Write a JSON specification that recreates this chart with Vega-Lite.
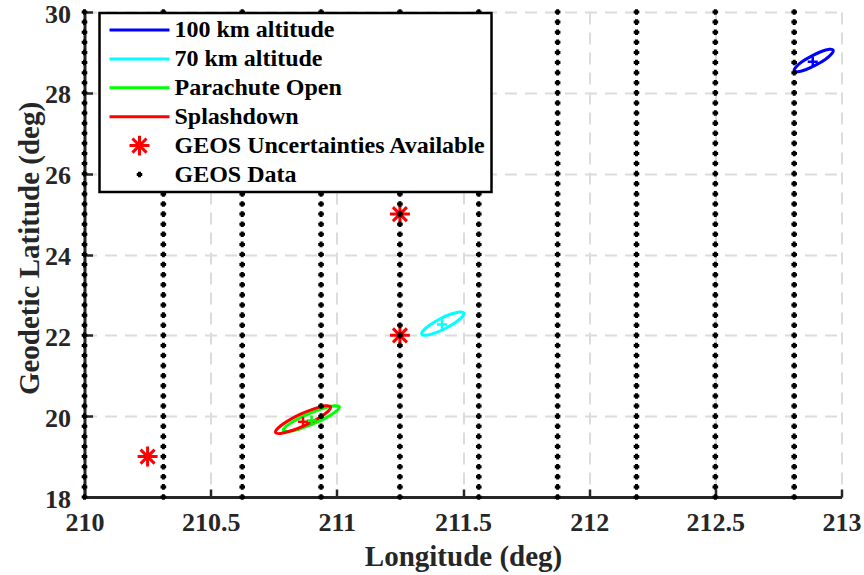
{
  "$schema": "https://vega.github.io/schema/vega-lite/v6.json",
  "width": 757,
  "height": 485,
  "autosize": {"type": "none"},
  "padding": {"left": 84.5, "top": 12, "right": 22.5, "bottom": 78},
  "background": "white",
  "config": {
    "view": {"stroke": null},
    "font": "Liberation Serif",
    "axis": {
      "labelFont": "Liberation Serif", "labelFontWeight": "bold", "labelFontSize": 26, "labelColor": "#262626",
      "titleFont": "Liberation Serif", "titleFontWeight": "bold", "titleFontSize": 29, "titleColor": "#262626",
      "domainColor": "#262626", "domainWidth": 3, "tickColor": "#262626", "tickWidth": 2.5, "tickSize": -8,
      "gridColor": "#dcdcdc", "gridDash": [12, 8], "gridWidth": 2,
      "labelFlush": false, "labelOverlap": false, "labelBound": false
    },
    "legend": {
      "labelFont": "Liberation Serif", "labelFontWeight": "bold", "labelFontSize": 24, "labelColor": "#000000", "labelLimit": 500
    }
  },
  "datasets": {
    "ellipses": [
      {"series": "100 km altitude", "i": 0, "lon": 212.967, "lat": 29.055},
      {"series": "100 km altitude", "i": 1, "lon": 212.952, "lat": 29.076},
      {"series": "100 km altitude", "i": 2, "lon": 212.920, "lat": 29.022},
      {"series": "100 km altitude", "i": 3, "lon": 212.881, "lat": 28.909},
      {"series": "100 km altitude", "i": 4, "lon": 212.843, "lat": 28.767},
      {"series": "100 km altitude", "i": 5, "lon": 212.819, "lat": 28.633},
      {"series": "100 km altitude", "i": 6, "lon": 212.813, "lat": 28.545},
      {"series": "100 km altitude", "i": 7, "lon": 212.828, "lat": 28.524},
      {"series": "100 km altitude", "i": 8, "lon": 212.860, "lat": 28.578},
      {"series": "100 km altitude", "i": 9, "lon": 212.899, "lat": 28.691},
      {"series": "100 km altitude", "i": 10, "lon": 212.937, "lat": 28.833},
      {"series": "100 km altitude", "i": 11, "lon": 212.961, "lat": 28.967},
      {"series": "70 km altitude", "i": 0, "lon": 211.503, "lat": 22.554},
      {"series": "70 km altitude", "i": 1, "lon": 211.487, "lat": 22.579},
      {"series": "70 km altitude", "i": 2, "lon": 211.453, "lat": 22.527},
      {"series": "70 km altitude", "i": 3, "lon": 211.410, "lat": 22.411},
      {"series": "70 km altitude", "i": 4, "lon": 211.370, "lat": 22.263},
      {"series": "70 km altitude", "i": 5, "lon": 211.343, "lat": 22.122},
      {"series": "70 km altitude", "i": 6, "lon": 211.337, "lat": 22.026},
      {"series": "70 km altitude", "i": 7, "lon": 211.353, "lat": 22.001},
      {"series": "70 km altitude", "i": 8, "lon": 211.387, "lat": 22.053},
      {"series": "70 km altitude", "i": 9, "lon": 211.430, "lat": 22.169},
      {"series": "70 km altitude", "i": 10, "lon": 211.470, "lat": 22.317},
      {"series": "70 km altitude", "i": 11, "lon": 211.497, "lat": 22.458},
      {"series": "Parachute Open", "i": 0, "lon": 211.010, "lat": 20.232},
      {"series": "Parachute Open", "i": 1, "lon": 210.991, "lat": 20.256},
      {"series": "Parachute Open", "i": 2, "lon": 210.947, "lat": 20.194},
      {"series": "Parachute Open", "i": 3, "lon": 210.890, "lat": 20.064},
      {"series": "Parachute Open", "i": 4, "lon": 210.836, "lat": 19.900},
      {"series": "Parachute Open", "i": 5, "lon": 210.799, "lat": 19.746},
      {"series": "Parachute Open", "i": 6, "lon": 210.788, "lat": 19.644},
      {"series": "Parachute Open", "i": 7, "lon": 210.807, "lat": 19.620},
      {"series": "Parachute Open", "i": 8, "lon": 210.851, "lat": 19.682},
      {"series": "Parachute Open", "i": 9, "lon": 210.908, "lat": 19.813},
      {"series": "Parachute Open", "i": 10, "lon": 210.962, "lat": 19.977},
      {"series": "Parachute Open", "i": 11, "lon": 210.999, "lat": 20.130},
      {"series": "Splashdown", "i": 0, "lon": 210.975, "lat": 20.230},
      {"series": "Splashdown", "i": 1, "lon": 210.955, "lat": 20.255},
      {"series": "Splashdown", "i": 2, "lon": 210.912, "lat": 20.188},
      {"series": "Splashdown", "i": 3, "lon": 210.856, "lat": 20.048},
      {"series": "Splashdown", "i": 4, "lon": 210.803, "lat": 19.871},
      {"series": "Splashdown", "i": 5, "lon": 210.767, "lat": 19.706},
      {"series": "Splashdown", "i": 6, "lon": 210.757, "lat": 19.596},
      {"series": "Splashdown", "i": 7, "lon": 210.777, "lat": 19.571},
      {"series": "Splashdown", "i": 8, "lon": 210.820, "lat": 19.638},
      {"series": "Splashdown", "i": 9, "lon": 210.876, "lat": 19.778},
      {"series": "Splashdown", "i": 10, "lon": 210.929, "lat": 19.955},
      {"series": "Splashdown", "i": 11, "lon": 210.965, "lat": 20.120}
    ],
    "centers": [
      {"series": "100 km altitude", "lon": 212.886, "lat": 28.77},
      {"series": "70 km altitude", "lon": 211.417, "lat": 22.27},
      {"series": "Parachute Open", "lon": 210.900, "lat": 19.89},
      {"series": "Splashdown", "lon": 210.866, "lat": 19.86}
    ],
    "uncert": [
      {"series": "GEOS Uncertainties Available", "lon": 210.25, "lat": 19},
      {"series": "GEOS Uncertainties Available", "lon": 211.25, "lat": 22},
      {"series": "GEOS Uncertainties Available", "lon": 211.25, "lat": 25}
    ],
    "geos": [
      {"lon":210,"lat":18},{"lon":210,"lat":18.25},{"lon":210,"lat":18.5},{"lon":210,"lat":18.75},{"lon":210,"lat":19},{"lon":210,"lat":19.25},{"lon":210,"lat":19.5},{"lon":210,"lat":19.75},{"lon":210,"lat":20},{"lon":210,"lat":20.25},{"lon":210,"lat":20.5},{"lon":210,"lat":20.75},{"lon":210,"lat":21},{"lon":210,"lat":21.25},{"lon":210,"lat":21.5},{"lon":210,"lat":21.75},{"lon":210,"lat":22},{"lon":210,"lat":22.25},{"lon":210,"lat":22.5},{"lon":210,"lat":22.75},{"lon":210,"lat":23},{"lon":210,"lat":23.25},{"lon":210,"lat":23.5},{"lon":210,"lat":23.75},{"lon":210,"lat":24},{"lon":210,"lat":24.25},{"lon":210,"lat":24.5},{"lon":210,"lat":24.75},{"lon":210,"lat":25},{"lon":210,"lat":25.25},{"lon":210,"lat":25.5},{"lon":210,"lat":25.75},{"lon":210,"lat":26},{"lon":210,"lat":26.25},{"lon":210,"lat":26.5},{"lon":210,"lat":26.75},{"lon":210,"lat":27},{"lon":210,"lat":27.25},{"lon":210,"lat":27.5},{"lon":210,"lat":27.75},{"lon":210,"lat":28},{"lon":210,"lat":28.25},{"lon":210,"lat":28.5},{"lon":210,"lat":28.75},{"lon":210,"lat":29},{"lon":210,"lat":29.25},{"lon":210,"lat":29.5},{"lon":210,"lat":29.75},{"lon":210,"lat":30},
      {"lon":210.3125,"lat":18},{"lon":210.3125,"lat":18.25},{"lon":210.3125,"lat":18.5},{"lon":210.3125,"lat":18.75},{"lon":210.3125,"lat":19},{"lon":210.3125,"lat":19.25},{"lon":210.3125,"lat":19.5},{"lon":210.3125,"lat":19.75},{"lon":210.3125,"lat":20},{"lon":210.3125,"lat":20.25},{"lon":210.3125,"lat":20.5},{"lon":210.3125,"lat":20.75},{"lon":210.3125,"lat":21},{"lon":210.3125,"lat":21.25},{"lon":210.3125,"lat":21.5},{"lon":210.3125,"lat":21.75},{"lon":210.3125,"lat":22},{"lon":210.3125,"lat":22.25},{"lon":210.3125,"lat":22.5},{"lon":210.3125,"lat":22.75},{"lon":210.3125,"lat":23},{"lon":210.3125,"lat":23.25},{"lon":210.3125,"lat":23.5},{"lon":210.3125,"lat":23.75},{"lon":210.3125,"lat":24},{"lon":210.3125,"lat":24.25},{"lon":210.3125,"lat":24.5},{"lon":210.3125,"lat":24.75},{"lon":210.3125,"lat":25},{"lon":210.3125,"lat":25.25},{"lon":210.3125,"lat":25.5},{"lon":210.3125,"lat":25.75},{"lon":210.3125,"lat":26},{"lon":210.3125,"lat":26.25},{"lon":210.3125,"lat":26.5},{"lon":210.3125,"lat":26.75},{"lon":210.3125,"lat":27},{"lon":210.3125,"lat":27.25},{"lon":210.3125,"lat":27.5},{"lon":210.3125,"lat":27.75},{"lon":210.3125,"lat":28},{"lon":210.3125,"lat":28.25},{"lon":210.3125,"lat":28.5},{"lon":210.3125,"lat":28.75},{"lon":210.3125,"lat":29},{"lon":210.3125,"lat":29.25},{"lon":210.3125,"lat":29.5},{"lon":210.3125,"lat":29.75},{"lon":210.3125,"lat":30},
      {"lon":210.625,"lat":18},{"lon":210.625,"lat":18.25},{"lon":210.625,"lat":18.5},{"lon":210.625,"lat":18.75},{"lon":210.625,"lat":19},{"lon":210.625,"lat":19.25},{"lon":210.625,"lat":19.5},{"lon":210.625,"lat":19.75},{"lon":210.625,"lat":20},{"lon":210.625,"lat":20.25},{"lon":210.625,"lat":20.5},{"lon":210.625,"lat":20.75},{"lon":210.625,"lat":21},{"lon":210.625,"lat":21.25},{"lon":210.625,"lat":21.5},{"lon":210.625,"lat":21.75},{"lon":210.625,"lat":22},{"lon":210.625,"lat":22.25},{"lon":210.625,"lat":22.5},{"lon":210.625,"lat":22.75},{"lon":210.625,"lat":23},{"lon":210.625,"lat":23.25},{"lon":210.625,"lat":23.5},{"lon":210.625,"lat":23.75},{"lon":210.625,"lat":24},{"lon":210.625,"lat":24.25},{"lon":210.625,"lat":24.5},{"lon":210.625,"lat":24.75},{"lon":210.625,"lat":25},{"lon":210.625,"lat":25.25},{"lon":210.625,"lat":25.5},{"lon":210.625,"lat":25.75},{"lon":210.625,"lat":26},{"lon":210.625,"lat":26.25},{"lon":210.625,"lat":26.5},{"lon":210.625,"lat":26.75},{"lon":210.625,"lat":27},{"lon":210.625,"lat":27.25},{"lon":210.625,"lat":27.5},{"lon":210.625,"lat":27.75},{"lon":210.625,"lat":28},{"lon":210.625,"lat":28.25},{"lon":210.625,"lat":28.5},{"lon":210.625,"lat":28.75},{"lon":210.625,"lat":29},{"lon":210.625,"lat":29.25},{"lon":210.625,"lat":29.5},{"lon":210.625,"lat":29.75},{"lon":210.625,"lat":30},
      {"lon":210.9375,"lat":18},{"lon":210.9375,"lat":18.25},{"lon":210.9375,"lat":18.5},{"lon":210.9375,"lat":18.75},{"lon":210.9375,"lat":19},{"lon":210.9375,"lat":19.25},{"lon":210.9375,"lat":19.5},{"lon":210.9375,"lat":19.75},{"lon":210.9375,"lat":20},{"lon":210.9375,"lat":20.25},{"lon":210.9375,"lat":20.5},{"lon":210.9375,"lat":20.75},{"lon":210.9375,"lat":21},{"lon":210.9375,"lat":21.25},{"lon":210.9375,"lat":21.5},{"lon":210.9375,"lat":21.75},{"lon":210.9375,"lat":22},{"lon":210.9375,"lat":22.25},{"lon":210.9375,"lat":22.5},{"lon":210.9375,"lat":22.75},{"lon":210.9375,"lat":23},{"lon":210.9375,"lat":23.25},{"lon":210.9375,"lat":23.5},{"lon":210.9375,"lat":23.75},{"lon":210.9375,"lat":24},{"lon":210.9375,"lat":24.25},{"lon":210.9375,"lat":24.5},{"lon":210.9375,"lat":24.75},{"lon":210.9375,"lat":25},{"lon":210.9375,"lat":25.25},{"lon":210.9375,"lat":25.5},{"lon":210.9375,"lat":25.75},{"lon":210.9375,"lat":26},{"lon":210.9375,"lat":26.25},{"lon":210.9375,"lat":26.5},{"lon":210.9375,"lat":26.75},{"lon":210.9375,"lat":27},{"lon":210.9375,"lat":27.25},{"lon":210.9375,"lat":27.5},{"lon":210.9375,"lat":27.75},{"lon":210.9375,"lat":28},{"lon":210.9375,"lat":28.25},{"lon":210.9375,"lat":28.5},{"lon":210.9375,"lat":28.75},{"lon":210.9375,"lat":29},{"lon":210.9375,"lat":29.25},{"lon":210.9375,"lat":29.5},{"lon":210.9375,"lat":29.75},{"lon":210.9375,"lat":30},
      {"lon":211.25,"lat":18},{"lon":211.25,"lat":18.25},{"lon":211.25,"lat":18.5},{"lon":211.25,"lat":18.75},{"lon":211.25,"lat":19},{"lon":211.25,"lat":19.25},{"lon":211.25,"lat":19.5},{"lon":211.25,"lat":19.75},{"lon":211.25,"lat":20},{"lon":211.25,"lat":20.25},{"lon":211.25,"lat":20.5},{"lon":211.25,"lat":20.75},{"lon":211.25,"lat":21},{"lon":211.25,"lat":21.25},{"lon":211.25,"lat":21.5},{"lon":211.25,"lat":21.75},{"lon":211.25,"lat":22},{"lon":211.25,"lat":22.25},{"lon":211.25,"lat":22.5},{"lon":211.25,"lat":22.75},{"lon":211.25,"lat":23},{"lon":211.25,"lat":23.25},{"lon":211.25,"lat":23.5},{"lon":211.25,"lat":23.75},{"lon":211.25,"lat":24},{"lon":211.25,"lat":24.25},{"lon":211.25,"lat":24.5},{"lon":211.25,"lat":24.75},{"lon":211.25,"lat":25},{"lon":211.25,"lat":25.25},{"lon":211.25,"lat":25.5},{"lon":211.25,"lat":25.75},{"lon":211.25,"lat":26},{"lon":211.25,"lat":26.25},{"lon":211.25,"lat":26.5},{"lon":211.25,"lat":26.75},{"lon":211.25,"lat":27},{"lon":211.25,"lat":27.25},{"lon":211.25,"lat":27.5},{"lon":211.25,"lat":27.75},{"lon":211.25,"lat":28},{"lon":211.25,"lat":28.25},{"lon":211.25,"lat":28.5},{"lon":211.25,"lat":28.75},{"lon":211.25,"lat":29},{"lon":211.25,"lat":29.25},{"lon":211.25,"lat":29.5},{"lon":211.25,"lat":29.75},{"lon":211.25,"lat":30},
      {"lon":211.5625,"lat":18},{"lon":211.5625,"lat":18.25},{"lon":211.5625,"lat":18.5},{"lon":211.5625,"lat":18.75},{"lon":211.5625,"lat":19},{"lon":211.5625,"lat":19.25},{"lon":211.5625,"lat":19.5},{"lon":211.5625,"lat":19.75},{"lon":211.5625,"lat":20},{"lon":211.5625,"lat":20.25},{"lon":211.5625,"lat":20.5},{"lon":211.5625,"lat":20.75},{"lon":211.5625,"lat":21},{"lon":211.5625,"lat":21.25},{"lon":211.5625,"lat":21.5},{"lon":211.5625,"lat":21.75},{"lon":211.5625,"lat":22},{"lon":211.5625,"lat":22.25},{"lon":211.5625,"lat":22.5},{"lon":211.5625,"lat":22.75},{"lon":211.5625,"lat":23},{"lon":211.5625,"lat":23.25},{"lon":211.5625,"lat":23.5},{"lon":211.5625,"lat":23.75},{"lon":211.5625,"lat":24},{"lon":211.5625,"lat":24.25},{"lon":211.5625,"lat":24.5},{"lon":211.5625,"lat":24.75},{"lon":211.5625,"lat":25},{"lon":211.5625,"lat":25.25},{"lon":211.5625,"lat":25.5},{"lon":211.5625,"lat":25.75},{"lon":211.5625,"lat":26},{"lon":211.5625,"lat":26.25},{"lon":211.5625,"lat":26.5},{"lon":211.5625,"lat":26.75},{"lon":211.5625,"lat":27},{"lon":211.5625,"lat":27.25},{"lon":211.5625,"lat":27.5},{"lon":211.5625,"lat":27.75},{"lon":211.5625,"lat":28},{"lon":211.5625,"lat":28.25},{"lon":211.5625,"lat":28.5},{"lon":211.5625,"lat":28.75},{"lon":211.5625,"lat":29},{"lon":211.5625,"lat":29.25},{"lon":211.5625,"lat":29.5},{"lon":211.5625,"lat":29.75},{"lon":211.5625,"lat":30},
      {"lon":211.875,"lat":18},{"lon":211.875,"lat":18.25},{"lon":211.875,"lat":18.5},{"lon":211.875,"lat":18.75},{"lon":211.875,"lat":19},{"lon":211.875,"lat":19.25},{"lon":211.875,"lat":19.5},{"lon":211.875,"lat":19.75},{"lon":211.875,"lat":20},{"lon":211.875,"lat":20.25},{"lon":211.875,"lat":20.5},{"lon":211.875,"lat":20.75},{"lon":211.875,"lat":21},{"lon":211.875,"lat":21.25},{"lon":211.875,"lat":21.5},{"lon":211.875,"lat":21.75},{"lon":211.875,"lat":22},{"lon":211.875,"lat":22.25},{"lon":211.875,"lat":22.5},{"lon":211.875,"lat":22.75},{"lon":211.875,"lat":23},{"lon":211.875,"lat":23.25},{"lon":211.875,"lat":23.5},{"lon":211.875,"lat":23.75},{"lon":211.875,"lat":24},{"lon":211.875,"lat":24.25},{"lon":211.875,"lat":24.5},{"lon":211.875,"lat":24.75},{"lon":211.875,"lat":25},{"lon":211.875,"lat":25.25},{"lon":211.875,"lat":25.5},{"lon":211.875,"lat":25.75},{"lon":211.875,"lat":26},{"lon":211.875,"lat":26.25},{"lon":211.875,"lat":26.5},{"lon":211.875,"lat":26.75},{"lon":211.875,"lat":27},{"lon":211.875,"lat":27.25},{"lon":211.875,"lat":27.5},{"lon":211.875,"lat":27.75},{"lon":211.875,"lat":28},{"lon":211.875,"lat":28.25},{"lon":211.875,"lat":28.5},{"lon":211.875,"lat":28.75},{"lon":211.875,"lat":29},{"lon":211.875,"lat":29.25},{"lon":211.875,"lat":29.5},{"lon":211.875,"lat":29.75},{"lon":211.875,"lat":30},
      {"lon":212.1875,"lat":18},{"lon":212.1875,"lat":18.25},{"lon":212.1875,"lat":18.5},{"lon":212.1875,"lat":18.75},{"lon":212.1875,"lat":19},{"lon":212.1875,"lat":19.25},{"lon":212.1875,"lat":19.5},{"lon":212.1875,"lat":19.75},{"lon":212.1875,"lat":20},{"lon":212.1875,"lat":20.25},{"lon":212.1875,"lat":20.5},{"lon":212.1875,"lat":20.75},{"lon":212.1875,"lat":21},{"lon":212.1875,"lat":21.25},{"lon":212.1875,"lat":21.5},{"lon":212.1875,"lat":21.75},{"lon":212.1875,"lat":22},{"lon":212.1875,"lat":22.25},{"lon":212.1875,"lat":22.5},{"lon":212.1875,"lat":22.75},{"lon":212.1875,"lat":23},{"lon":212.1875,"lat":23.25},{"lon":212.1875,"lat":23.5},{"lon":212.1875,"lat":23.75},{"lon":212.1875,"lat":24},{"lon":212.1875,"lat":24.25},{"lon":212.1875,"lat":24.5},{"lon":212.1875,"lat":24.75},{"lon":212.1875,"lat":25},{"lon":212.1875,"lat":25.25},{"lon":212.1875,"lat":25.5},{"lon":212.1875,"lat":25.75},{"lon":212.1875,"lat":26},{"lon":212.1875,"lat":26.25},{"lon":212.1875,"lat":26.5},{"lon":212.1875,"lat":26.75},{"lon":212.1875,"lat":27},{"lon":212.1875,"lat":27.25},{"lon":212.1875,"lat":27.5},{"lon":212.1875,"lat":27.75},{"lon":212.1875,"lat":28},{"lon":212.1875,"lat":28.25},{"lon":212.1875,"lat":28.5},{"lon":212.1875,"lat":28.75},{"lon":212.1875,"lat":29},{"lon":212.1875,"lat":29.25},{"lon":212.1875,"lat":29.5},{"lon":212.1875,"lat":29.75},{"lon":212.1875,"lat":30},
      {"lon":212.5,"lat":18},{"lon":212.5,"lat":18.25},{"lon":212.5,"lat":18.5},{"lon":212.5,"lat":18.75},{"lon":212.5,"lat":19},{"lon":212.5,"lat":19.25},{"lon":212.5,"lat":19.5},{"lon":212.5,"lat":19.75},{"lon":212.5,"lat":20},{"lon":212.5,"lat":20.25},{"lon":212.5,"lat":20.5},{"lon":212.5,"lat":20.75},{"lon":212.5,"lat":21},{"lon":212.5,"lat":21.25},{"lon":212.5,"lat":21.5},{"lon":212.5,"lat":21.75},{"lon":212.5,"lat":22},{"lon":212.5,"lat":22.25},{"lon":212.5,"lat":22.5},{"lon":212.5,"lat":22.75},{"lon":212.5,"lat":23},{"lon":212.5,"lat":23.25},{"lon":212.5,"lat":23.5},{"lon":212.5,"lat":23.75},{"lon":212.5,"lat":24},{"lon":212.5,"lat":24.25},{"lon":212.5,"lat":24.5},{"lon":212.5,"lat":24.75},{"lon":212.5,"lat":25},{"lon":212.5,"lat":25.25},{"lon":212.5,"lat":25.5},{"lon":212.5,"lat":25.75},{"lon":212.5,"lat":26},{"lon":212.5,"lat":26.25},{"lon":212.5,"lat":26.5},{"lon":212.5,"lat":26.75},{"lon":212.5,"lat":27},{"lon":212.5,"lat":27.25},{"lon":212.5,"lat":27.5},{"lon":212.5,"lat":27.75},{"lon":212.5,"lat":28},{"lon":212.5,"lat":28.25},{"lon":212.5,"lat":28.5},{"lon":212.5,"lat":28.75},{"lon":212.5,"lat":29},{"lon":212.5,"lat":29.25},{"lon":212.5,"lat":29.5},{"lon":212.5,"lat":29.75},{"lon":212.5,"lat":30},
      {"lon":212.8125,"lat":18},{"lon":212.8125,"lat":18.25},{"lon":212.8125,"lat":18.5},{"lon":212.8125,"lat":18.75},{"lon":212.8125,"lat":19},{"lon":212.8125,"lat":19.25},{"lon":212.8125,"lat":19.5},{"lon":212.8125,"lat":19.75},{"lon":212.8125,"lat":20},{"lon":212.8125,"lat":20.25},{"lon":212.8125,"lat":20.5},{"lon":212.8125,"lat":20.75},{"lon":212.8125,"lat":21},{"lon":212.8125,"lat":21.25},{"lon":212.8125,"lat":21.5},{"lon":212.8125,"lat":21.75},{"lon":212.8125,"lat":22},{"lon":212.8125,"lat":22.25},{"lon":212.8125,"lat":22.5},{"lon":212.8125,"lat":22.75},{"lon":212.8125,"lat":23},{"lon":212.8125,"lat":23.25},{"lon":212.8125,"lat":23.5},{"lon":212.8125,"lat":23.75},{"lon":212.8125,"lat":24},{"lon":212.8125,"lat":24.25},{"lon":212.8125,"lat":24.5},{"lon":212.8125,"lat":24.75},{"lon":212.8125,"lat":25},{"lon":212.8125,"lat":25.25},{"lon":212.8125,"lat":25.5},{"lon":212.8125,"lat":25.75},{"lon":212.8125,"lat":26},{"lon":212.8125,"lat":26.25},{"lon":212.8125,"lat":26.5},{"lon":212.8125,"lat":26.75},{"lon":212.8125,"lat":27},{"lon":212.8125,"lat":27.25},{"lon":212.8125,"lat":27.5},{"lon":212.8125,"lat":27.75},{"lon":212.8125,"lat":28},{"lon":212.8125,"lat":28.25},{"lon":212.8125,"lat":28.5},{"lon":212.8125,"lat":28.75},{"lon":212.8125,"lat":29},{"lon":212.8125,"lat":29.25},{"lon":212.8125,"lat":29.5},{"lon":212.8125,"lat":29.75},{"lon":212.8125,"lat":30}
    ]
  },
  "layer": [
    {
      "data": {"name": "ellipses"},
      "mark": {"type": "line", "interpolate": "cardinal-closed", "strokeWidth": 3},
      "encoding": {
        "x": {"field": "lon", "type": "quantitative", "scale": {"domain": [210, 213], "nice": false, "zero": false},
              "axis": {"values": [210, 210.5, 211, 211.5, 212, 212.5, 213], "format": "~g", "labelPadding": 20, "title": "Longitude (deg)", "titleBaseline": "alphabetic", "titleY": 68}},
        "y": {"field": "lat", "type": "quantitative", "scale": {"domain": [18, 30], "nice": false, "zero": false},
              "axis": {"values": [18, 20, 22, 24, 26, 28, 30], "format": "d", "labelPadding": 22, "labelOffset": 2, "title": "Geodetic Latitude (deg)", "titleBaseline": "alphabetic", "titleX": -46, "titleY": 236, "titleAngle": -90}},
        "order": {"field": "i", "type": "quantitative"},
        "color": {"field": "series", "type": "nominal",
                  "scale": {"domain": ["100 km altitude", "70 km altitude", "Parachute Open", "Splashdown", "GEOS Uncertainties Available", "GEOS Data"],
                            "range": ["#0000ff", "#00ffff", "#00ff00", "#ff0000", "#ff0000", "#000000"]},
                  "legend": {
                    "title": null, "orient": "none", "legendX": 15, "legendY": 1,
                    "strokeColor": "#000000", "fillColor": "#ffffff", "padding": 5,
                    "labelFont": "Liberation Serif", "labelFontWeight": "bold", "labelFontSize": 24, "labelColor": "#000000", "labelLimit": 500,
                    "symbolSize": 225, "symbolStrokeWidth": 3, "symbolOffset": 23, "labelOffset": 23, "rowPadding": 4.9, "clipHeight": 24,
                    "encode": {
                      "legend": {"update": {"strokeWidth": {"value": 2.5}}},
                      "labels": {"update": {"font": {"value": "Liberation Serif"}, "fontWeight": {"value": "bold"}, "fontSize": {"value": 24}, "fill": {"value": "#000000"}}},
                      "symbols": {"update": {
                        "shape": {"signal": "datum.value == 'GEOS Data' ? 'M-0.37,0L0.37,0M0,-0.37L0,0.37' : (datum.value == 'GEOS Uncertainties Available' ? 'M-1.33,0L1.33,0M0,-1.33L0,1.33M-0.94,-0.94L0.94,0.94M-0.94,0.94L0.94,-0.94' : 'M-4,0L4,0')"},
                        "fill": {"value": "transparent"},
                        "strokeWidth": {"value": 3},
                        "opacity": {"value": 1}
                      }}
                    }
                  }}
      }
    },
    {
      "data": {"name": "centers"},
      "mark": {"type": "point", "shape": "M-0.5,0L0.5,0M0,-0.5L0,0.5", "size": 400, "strokeWidth": 2.5, "filled": false, "opacity": 1},
      "encoding": {
        "x": {"field": "lon", "type": "quantitative"},
        "y": {"field": "lat", "type": "quantitative"},
        "color": {"field": "series", "type": "nominal"}
      }
    },
    {
      "data": {"name": "uncert"},
      "mark": {"type": "point", "shape": "M-1,0L1,0M0,-1L0,1M-0.7,-0.7L0.7,0.7M-0.7,0.7L0.7,-0.7", "size": 400, "strokeWidth": 3, "filled": false, "opacity": 1},
      "encoding": {
        "x": {"field": "lon", "type": "quantitative"},
        "y": {"field": "lat", "type": "quantitative"},
        "color": {"field": "series", "type": "nominal"}
      }
    },
    {
      "data": {"name": "geos"},
      "mark": {"type": "point", "shape": "M-0.28,0L0.28,0M0,-0.28L0,0.28", "size": 400, "strokeWidth": 3, "filled": false, "opacity": 1, "color": "#000000"},
      "encoding": {
        "x": {"field": "lon", "type": "quantitative"},
        "y": {"field": "lat", "type": "quantitative"}
      }
    }
  ]
}
